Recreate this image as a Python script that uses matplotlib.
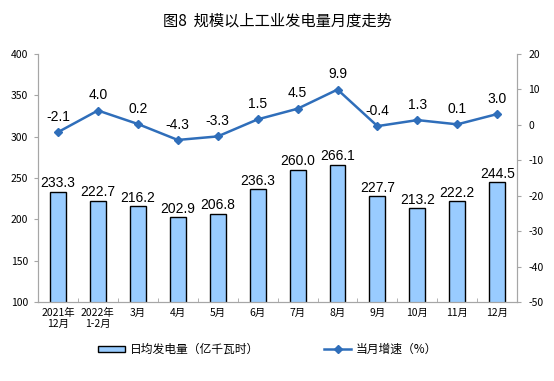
import matplotlib.pyplot as plt
from matplotlib.ticker import FixedLocator

plt.rcParams['font.family'] = ['Noto Sans CJK SC', 'DejaVu Sans']
plt.rcParams['axes.unicode_minus'] = False

months = ['2021年\n12月', '2022年\n1-2月', '3月', '4月', '5月', '6月',
          '7月', '8月', '9月', '10月', '11月', '12月']
daily_output = [233.3, 222.7, 216.2, 202.9, 206.8, 236.3,
                260.0, 266.1, 227.7, 213.2, 222.2, 244.5]
growth = [-2.1, 4.0, 0.2, -4.3, -3.3, 1.5, 4.5, 9.9, -0.4, 1.3, 0.1, 3.0]

bar_color = '#99CCFF'
line_color = '#2F6EBA'
spine_color = '#A6A6A6'

fig = plt.figure(figsize=(5.54, 3.81), dpi=100)
ax = fig.add_axes([0.0686, 0.207, 0.865, 0.652])
ax2 = ax.twinx()

x = list(range(len(months)))
ax.bar(x, daily_output, width=0.4, color=bar_color, edgecolor='black',
       linewidth=1.0, label='日均发电量（亿千瓦时）', zorder=2)
for xi, v in zip(x, daily_output):
    ax.annotate(f'{v:.1f}', (xi, v), xytext=(0, 1), textcoords='offset points',
                ha='center', va='bottom', fontsize=10, family='Liberation Sans')

ax.set_ylim(100, 400)
ax.set_yticks(range(100, 401, 50))
ax.set_xlim(-0.5, len(months) - 0.5)
ax.set_xticks(x)
ax.set_xticklabels(months, fontsize=7.5, linespacing=1.2)
ax.xaxis.set_minor_locator(FixedLocator([i + 0.5 for i in range(-1, len(months))]))
ax.tick_params(axis='x', which='major', length=0, pad=4)
ax.tick_params(axis='x', which='minor', length=3, direction='in', color=spine_color)
ax.tick_params(axis='y', labelsize=7.5, length=3, color=spine_color, pad=4)

ax2.plot(x, growth, color=line_color, linewidth=1.8, marker='D', markersize=4,
         label='当月增速（%）', zorder=3)
for xi, v in zip(x, growth):
    ax2.annotate(f'{v:.1f}', (xi, v), xytext=(0, 6), textcoords='offset points',
                 ha='center', va='bottom', fontsize=10, family='Liberation Sans')
ax2.set_ylim(-50, 20)
ax2.set_yticks(range(-50, 21, 10))
ax2.tick_params(axis='y', labelsize=7.5, length=3, color=spine_color, pad=5)

for a in (ax, ax2):
    a.spines['top'].set_visible(False)
    for s in ('left', 'right', 'bottom'):
        a.spines[s].set_color(spine_color)

fig.text(0.5, 0.945, '图8  规模以上工业发电量月度走势', ha='center', va='center',
         fontsize=11, fontweight='medium')

h1, l1 = ax.get_legend_handles_labels()
h2, l2 = ax2.get_legend_handles_labels()
fig.legend(h1 + h2, l1 + l2, loc='center', bbox_to_anchor=(0.483, 0.082), ncol=2,
           frameon=False, fontsize=8.5, handlelength=2.3, handleheight=0.5,
           handletextpad=0.4, columnspacing=5.5)

fig.savefig('out.png', dpi=100)
